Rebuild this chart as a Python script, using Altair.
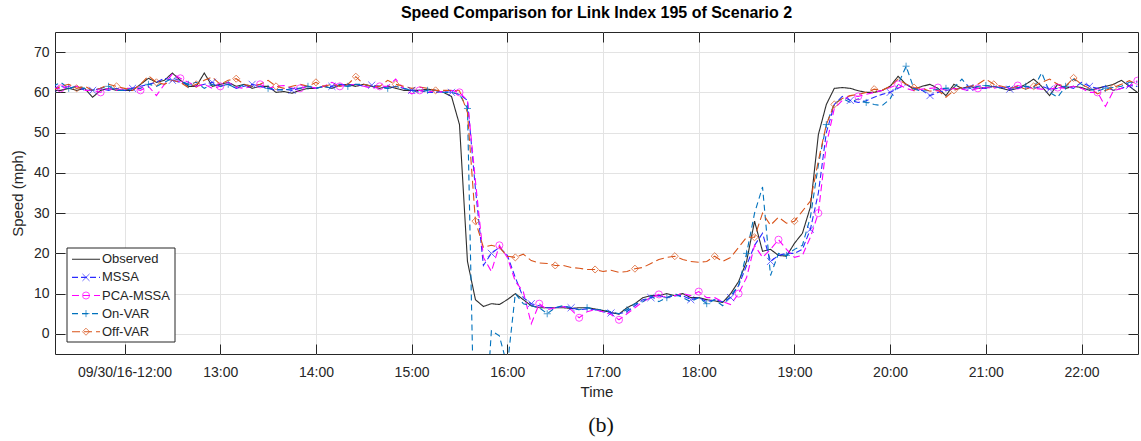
import altair as alt
import pandas as pd

FONT = "Liberation Sans"
TEXT_COLOR = "#262626"

SERIES = ["Observed", "MSSA", "PCA-MSSA", "On-VAR", "Off-VAR"]
COLORS = ["#2e2e2e", "#2b2bff", "#ff00ff", "#0072bd", "#d95319"]
DASHES = [[1, 0], [6, 3], [7, 4], [6, 4], [8, 4]]
MARKER_SERIES = ["MSSA", "PCA-MSSA", "On-VAR", "Off-VAR"]
MARKER_SHAPES = ["M-1,-1L1,1M1,-1L-1,1", "circle", "M-1,0L1,0M0,-1L0,1", "diamond"]
MARKER_PHASE = {"MSSA": 0, "PCA-MSSA": 1, "On-VAR": 2, "Off-VAR": 3}

START = "2016-09-30 11:15"   # samples every 5 minutes
TICK_HOURS = [12, 13, 14, 15, 16, 17, 18, 19, 20, 21, 22]
Y_TICKS = [0, 10, 20, 30, 40, 50, 60, 70]

# values per hour (11:15-11:55, then full hours, 22:00-22:35)
observed = (
    [60.5, 60.5, 61.0, 60.5, 61.0, 58.8, 60.5, 61.0, 60.5]
    + [60.5, 60.5, 62.0, 63.5, 62.5, 63.0, 64.8, 63.0, 61.5, 61.5, 64.8, 61.5]
    + [62.0, 62.5, 61.5, 62.0, 61.0, 61.5, 61.5, 60.0, 60.2, 59.8, 60.5, 61.0]
    + [61.0, 61.5, 61.0, 61.8, 62.0, 61.5, 62.0, 61.5, 61.0, 61.5, 61.0, 60.5]
    + [60.5, 60.5, 60.8, 60.5, 60.0, 59.0, 52.0, 18.0, 8.5, 6.8, 7.5, 7.3]
    + [8.5, 10.0, 8.5, 7.0, 6.5, 6.5, 6.5, 6.5, 6.3, 6.5, 6.5, 6.2]
    + [5.8, 5.3, 4.9, 6.5, 7.5, 9.0, 9.5, 9.5, 10.0, 9.5, 10.0, 9.0]
    + [9.0, 8.5, 8.2, 7.8, 10.0, 13.0, 18.0, 28.0, 20.5, 21.0, 19.5, 19.3]
    + [22.5, 25.0, 31.5, 49.5, 57.0, 61.0, 61.2, 61.0, 60.4, 60.0, 60.0, 60.5]
    + [61.5, 64.0, 62.0, 60.8, 61.5, 62.0, 61.0, 59.2, 62.0, 61.0, 61.5, 61.0]
    + [61.2, 61.5, 61.0, 60.5, 61.0, 62.0, 63.3, 61.5, 59.2, 62.0, 61.0, 61.5]
    + [61.2, 60.5, 61.0, 61.5, 62.0, 63.0, 61.5, 60.0]
)
mssa = (
    [61.0, 61.5, 61.0, 61.5, 60.5, 60.5, 61.0, 60.5, 61.0]
    + [60.5, 61.0, 61.5, 62.0, 62.5, 63.5, 63.0, 62.5, 62.0, 61.5, 62.0, 62.5]
    + [61.5, 62.0, 61.0, 61.5, 62.0, 61.5, 61.0, 60.5, 60.8, 60.5, 61.0, 61.5]
    + [61.0, 61.5, 61.5, 62.0, 61.8, 62.0, 61.5, 61.8, 61.5, 61.0, 61.5, 61.0]
    + [60.5, 60.5, 60.0, 60.0, 60.2, 60.0, 59.5, 58.0, 36.0, 17.0, 20.0, 21.5]
    + [19.5, 14.0, 9.0, 7.5, 7.0, 6.5, 6.5, 6.8, 6.5, 6.0, 6.2, 6.0]
    + [5.5, 5.2, 5.0, 5.5, 7.0, 8.5, 9.0, 9.5, 9.0, 9.5, 9.5, 8.5]
    + [9.0, 8.0, 8.5, 8.0, 9.0, 12.0, 17.0, 22.0, 25.0, 18.0, 19.5, 20.0]
    + [20.0, 21.0, 26.0, 35.0, 50.0, 57.0, 59.0, 58.0, 57.5, 57.9, 58.8, 59.5]
    + [60.0, 61.0, 62.0, 61.0, 60.5, 59.2, 60.0, 60.5, 60.8, 61.0, 61.2, 61.0]
    + [61.0, 61.5, 61.2, 60.8, 61.0, 61.5, 61.0, 61.5, 60.8, 61.0, 61.5, 61.0]
    + [62.5, 61.5, 61.0, 61.5, 60.5, 61.0, 61.7, 61.5]
)
pca_mssa = (
    [61.0, 61.0, 61.5, 61.5, 60.5, 60.5, 60.0, 61.0, 60.5]
    + [61.0, 61.0, 60.5, 61.5, 59.2, 62.0, 64.6, 63.5, 62.5, 61.5, 62.0, 61.0]
    + [61.5, 62.5, 61.3, 61.0, 61.5, 62.0, 61.0, 61.5, 61.7, 61.0, 61.0, 61.5]
    + [61.0, 61.5, 62.5, 61.5, 61.8, 62.0, 61.5, 61.0, 61.5, 61.5, 63.3, 61.0]
    + [59.6, 60.5, 60.0, 60.5, 60.0, 60.5, 60.0, 58.0, 38.0, 19.0, 15.5, 22.0]
    + [19.0, 13.0, 10.5, 2.5, 7.5, 6.0, 6.5, 6.8, 6.0, 4.0, 5.5, 6.0]
    + [5.5, 4.8, 3.5, 5.0, 6.5, 8.0, 9.0, 9.8, 9.0, 9.5, 10.0, 9.5]
    + [10.5, 9.0, 9.0, 8.0, 7.3, 10.0, 14.0, 22.0, 19.0, 21.0, 23.4, 21.0]
    + [19.0, 19.5, 24.0, 30.0, 47.0, 56.0, 58.0, 59.2, 59.0, 59.5, 60.0, 60.5]
    + [61.2, 62.0, 61.0, 60.4, 60.8, 61.0, 61.2, 60.5, 61.0, 60.8, 60.4, 61.0]
    + [61.2, 61.0, 61.5, 61.0, 61.7, 61.2, 61.0, 60.8, 60.8, 61.2, 61.0, 61.5]
    + [61.0, 60.0, 60.0, 56.5, 60.4, 61.0, 61.5, 62.9]
)
on_var = (
    [61.5, 62.5, 61.0, 61.5, 61.0, 60.5, 61.0, 61.5, 60.5]
    + [60.5, 61.0, 61.0, 62.0, 61.5, 62.5, 63.5, 63.0, 62.0, 62.5, 61.0, 62.0]
    + [61.5, 62.0, 61.0, 62.0, 61.5, 61.5, 61.0, 60.8, 60.5, 61.0, 61.0, 61.5]
    + [61.0, 61.5, 61.0, 62.0, 61.5, 62.0, 62.0, 61.5, 61.5, 61.0, 61.5, 61.0]
    + [60.5, 60.0, 60.5, 60.5, 60.0, 60.0, 59.5, 56.0, -40.0, -30.0, 0.8, -0.5]
    + [-8.0, 10.0, 7.5, 7.0, 6.5, 5.0, 6.5, 7.0, 6.5, 6.0, 6.5, 6.0]
    + [6.0, 5.5, 5.0, 6.0, 7.5, 8.0, 9.5, 8.0, 9.0, 10.0, 9.0, 8.0]
    + [9.0, 7.5, 8.5, 7.0, 9.5, 12.0, 20.0, 30.0, 36.5, 14.5, 20.0, 19.5]
    + [21.0, 22.0, 29.0, 42.0, 52.0, 57.2, 58.5, 57.5, 58.4, 57.5, 57.0, 56.7]
    + [58.4, 62.0, 66.5, 60.8, 60.3, 60.5, 60.8, 61.0, 61.2, 63.3, 61.0, 61.5]
    + [61.7, 61.5, 61.0, 61.5, 61.2, 61.5, 61.0, 64.9, 60.0, 58.8, 61.5, 63.3]
    + [62.0, 60.8, 60.3, 61.0, 61.2, 61.5, 62.5, 62.5]
)
off_var = (
    [60.5, 61.5, 62.0, 61.0, 61.5, 60.5, 61.0, 62.0, 61.5]
    + [61.0, 60.5, 62.0, 64.1, 62.5, 62.0, 63.0, 62.5, 61.2, 62.0, 63.0, 63.8]
    + [62.0, 63.0, 63.4, 62.0, 61.5, 62.0, 63.0, 61.5, 61.0, 61.5, 62.0, 61.5]
    + [62.5, 61.5, 62.0, 61.5, 62.0, 63.9, 62.0, 61.5, 61.5, 63.0, 62.0, 61.5]
    + [61.0, 61.3, 61.0, 60.5, 60.5, 60.5, 60.4, 55.0, 28.0, 21.5, 22.0, 21.5]
    + [19.3, 19.0, 19.8, 18.2, 17.6, 17.5, 17.0, 17.0, 16.5, 16.3, 16.0, 16.0]
    + [15.5, 15.8, 15.3, 15.5, 16.2, 16.5, 17.5, 18.5, 19.0, 19.3, 18.5, 18.0]
    + [17.8, 18.0, 19.3, 18.0, 19.0, 21.5, 24.0, 24.0, 30.0, 27.0, 29.0, 27.5]
    + [28.0, 30.5, 33.0, 43.0, 52.0, 57.0, 58.5, 59.2, 59.5, 60.0, 60.8, 60.5]
    + [61.5, 63.3, 62.0, 61.2, 61.0, 60.3, 60.5, 58.8, 60.5, 61.2, 61.5, 62.0]
    + [63.3, 62.0, 61.5, 61.0, 61.5, 60.8, 61.5, 62.5, 63.3, 62.0, 61.5, 63.6]
    + [62.0, 61.0, 59.6, 60.5, 61.2, 62.0, 62.9, 62.0]
)

all_values = [observed, mssa, pca_mssa, on_var, off_var]
n = len(observed)
assert all(len(v) == n for v in all_values), [len(v) for v in all_values]
times = pd.date_range(START, periods=n, freq="5min")

rows = []
for name, vals in zip(SERIES, all_values):
    for i, (t, v) in enumerate(zip(times, vals)):
        rows.append({"series": name, "time": t, "speed": v, "idx": i,
                     "marker": name in MARKER_PHASE and i % 5 == MARKER_PHASE[name]})
df = pd.DataFrame(rows)
obs_df = df[df["series"] == "Observed"]
model_df = df[df["series"] != "Observed"]
marker_df = df[df["marker"]]
legend_df = pd.DataFrame({"series": SERIES, "row": list(range(len(SERIES)))})
one_row = pd.DataFrame({"k": [0]})

W, H = 1083, 322


def dt(h, m=0, s=0):
    return alt.DateTime(year=2016, month=9, date=30, hours=h, minutes=m, seconds=s)


x_scale = alt.Scale(domain=[dt(11, 16, 24), dt(22, 35, 24)])
y_scale = alt.Scale(domain=[-5, 75], nice=False, zero=False)
tick_values = [dt(h) for h in TICK_HOURS]

color = alt.Color("series:N", scale=alt.Scale(domain=SERIES, range=COLORS), legend=None)
dash = alt.StrokeDash("series:N", scale=alt.Scale(domain=SERIES, range=DASHES), legend=None)
shape = alt.Shape("series:N", scale=alt.Scale(domain=MARKER_SERIES, range=MARKER_SHAPES), legend=None)

label_expr = "hours(datum.value) == 12 ? '09/30/16-12:00' : timeFormat(datum.value, '%H:%M')"

main_x_axis = alt.Axis(values=tick_values, labelExpr=label_expr, title="Time", grid=True,
                       ticks=False, tickSize=0, labelPadding=11, titlePadding=5, domain=False,
                       labelFlush=False, orient="bottom")
main_y_axis = alt.Axis(values=Y_TICKS, title="Speed (mph)", grid=True, ticks=False, tickSize=0,
                       labelPadding=6, titlePadding=8, domain=False, orient="left")

tick_axis_common = dict(labels=False, ticks=True, tickSize=10, domain=False, grid=False, title=None)

# observed line (axes: top inward ticks, right inward ticks)
obs_layer = alt.Chart(obs_df).mark_line(strokeWidth=1.1, clip=True).encode(
    x=alt.X("time:T", scale=x_scale,
            axis=alt.Axis(values=tick_values, orient="bottom", offset=-H, **tick_axis_common)),
    y=alt.Y("speed:Q", scale=y_scale,
            axis=alt.Axis(values=Y_TICKS, orient="left", offset=-W, **tick_axis_common)),
    color=color,
    strokeDash=dash,
    detail="series:N",
)

model_layer = alt.Chart(model_df).mark_line(strokeWidth=1.1, clip=True).encode(
    x=alt.X("time:T", scale=x_scale, axis=main_x_axis),
    y=alt.Y("speed:Q", scale=y_scale, axis=main_y_axis),
    color=color,
    strokeDash=dash,
    detail="series:N",
)

point_layer = alt.Chart(marker_df).mark_point(filled=False, size=50, strokeWidth=1, clip=True).encode(
    x=alt.X("time:T", scale=x_scale,
            axis=alt.Axis(values=tick_values, orient="top", offset=-H, **tick_axis_common)),
    y=alt.Y("speed:Q", scale=y_scale,
            axis=alt.Axis(values=Y_TICKS, orient="right", offset=-W, **tick_axis_common)),
    color=color,
    shape=shape,
)

# legend (MATLAB style box in the lower left)
legend_box = alt.Chart(one_row).mark_rect(fill="white", stroke="#262626", strokeWidth=1).encode(
    x=alt.value(12), x2=alt.value(120), y=alt.value(216), y2=alt.value(310)
)
legend_base = alt.Chart(legend_df).transform_calculate(ly="227.3 + datum.row * 18.1")
legend_lines = legend_base.mark_rule(strokeWidth=1.1).encode(
    x=alt.value(17), x2=alt.value(45), y=alt.Y("ly:Q", scale=None, axis=None),
    color=color, strokeDash=dash,
)
legend_marks = legend_base.transform_filter("datum.series != 'Observed'").mark_point(
    filled=False, size=50, strokeWidth=1
).encode(
    x=alt.value(31), y=alt.Y("ly:Q", scale=None, axis=None), color=color, shape=shape,
)
legend_text = legend_base.mark_text(align="left", baseline="middle", font=FONT, fontSize=13,
                                    color=TEXT_COLOR).encode(
    x=alt.value(47), y=alt.Y("ly:Q", scale=None, axis=None), text="series:N",
)

caption = alt.Chart(one_row).mark_text(font="Liberation Serif", fontSize=22, color="#111111",
                                       align="center", baseline="alphabetic").encode(
    x=alt.value(546), y=alt.value(400), text=alt.value("(b)")
)

chart = alt.layer(
    obs_layer, model_layer, point_layer,
    legend_box, legend_lines, legend_marks, legend_text, caption,
).resolve_axis(
    x="independent", y="independent"
).properties(
    width=W, height=H,
    title=alt.TitleParams(text="Speed Comparison for Link Index 195 of Scenario 2", font=FONT,
                          fontSize=16, fontWeight="bold", color="#000000", anchor="middle",
                          frame="group", offset=11),
    autosize=alt.AutoSizeParams(type="none"),
    padding={"left": 55, "top": 32, "right": 3, "bottom": 87},
).configure_view(
    stroke=TEXT_COLOR, strokeWidth=1
).configure_axis(
    labelFont=FONT, labelFontSize=14, labelColor=TEXT_COLOR,
    titleFont=FONT, titleFontSize=15, titleFontWeight="normal", titleColor=TEXT_COLOR,
    gridColor="#e3e3e3", gridWidth=1, tickColor=TEXT_COLOR, tickWidth=1,
)

chart.save("out.html", embed_options={"renderer": "svg", "actions": False})
